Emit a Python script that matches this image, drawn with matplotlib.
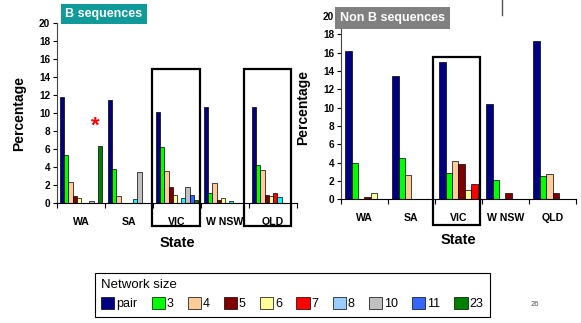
import numpy as np
import matplotlib.pyplot as plt
from matplotlib.patches import Rectangle, Patch

plt.rcParams['font.family'] = ['Liberation Sans', 'DejaVu Sans']

states = ['WA', 'SA', 'VIC', 'W NSW', 'QLD']
sizes = ['pair', '3', '4', '5', '6', '7', '8', '10', '11', '23']
colors = ['#000080', '#00FF00', '#FFCC99', '#800000', '#FFFF99',
          '#FF0000', '#99CCFF', '#C0C0C0', '#3366FF', '#008000']
# size "8" looks cyan in the left chart
b_colors = colors[:6] + ['#00FFFF'] + colors[7:]

# B sequences, one list per network size, in state order
b_pair = [11.8, 11.45, 10.1, 10.65, 10.65]
b_3 = [5.3, 3.8, 6.2, 1.05, 4.2]
b_4 = [2.3, 0.8, 3.5, 2.2, 3.6]
b_5 = [0.7, 0.0, 1.7, 0.25, 0.85]
b_6 = [0.5, 0.0, 0.9, 0.5, 0.7]
b_7 = [0.0, 0.0, 0.0, 0.0, 1.1]
b_8 = [0.0, 0.4, 0.5, 0.2, 0.6]
b_10 = [0.2, 3.4, 1.7, 0.0, 0.0]
b_11 = [0.0, 0.0, 0.9, 0.0, 0.0]
b_23 = [6.35, 0.0, 0.25, 0.0, 0.0]
b_vals = [b_pair, b_3, b_4, b_5, b_6, b_7, b_8, b_10, b_11, b_23]

# Non B sequences (only sizes pair..7 present)
nb_pair = [16.2, 13.5, 15.0, 10.4, 17.3]
nb_3 = [4.0, 4.5, 2.9, 2.1, 2.5]
nb_4 = [0.0, 2.7, 4.2, 0.0, 2.8]
nb_5 = [0.3, 0.0, 3.9, 0.7, 0.7]
nb_6 = [0.7, 0.0, 1.0, 0.0, 0.0]
nb_7 = [0.0, 0.0, 1.7, 0.0, 0.0]
nb_vals = [nb_pair, nb_3, nb_4, nb_5, nb_6, nb_7]


def draw_panel(ax, vals, cols, gap=1.3):
    n = len(vals)
    w = 1.0 / (n + gap)
    x = np.arange(len(states))
    for k, v in enumerate(vals):
        v = np.array(v, dtype=float)
        v = np.where(v > 0, v, np.nan)
        ax.bar(x - n * w / 2 + (k + 0.5) * w, v, w, color=cols[k],
               edgecolor='black', linewidth=0.5)
    ax.set_xlim(-0.5, len(states) - 0.5)
    ax.set_ylim(0, 20)
    ax.set_yticks(range(0, 21, 2))
    ax.set_xticks(x)
    ax.set_xticklabels(states, fontsize=7.6, fontweight='bold')
    ax.set_xticks(np.arange(-0.5, len(states), 1), minor=True)
    ax.tick_params(axis='x', which='major', length=0, pad=10)
    ax.tick_params(axis='x', which='minor', length=3.5, width=0.8)
    ax.tick_params(axis='y', length=3, width=0.8, pad=2)
    for t in ax.get_yticklabels():
        t.set_fontsize(7.2)
        t.set_fontweight('bold')
    for s in ['top', 'right']:
        ax.spines[s].set_visible(False)
    ax.spines['left'].set_color('#444444')
    ax.set_ylabel('Percentage', fontsize=10, fontweight='bold', labelpad=9)
    ax.set_xlabel('State', fontsize=10.5, fontweight='bold', labelpad=7)


fig = plt.figure(figsize=(5.81, 3.23), dpi=100)
ax1 = fig.add_axes([0.0981, 0.3724, 0.4131, 0.5555])
ax2 = fig.add_axes([0.5869, 0.3830, 0.4045, 0.5675])

draw_panel(ax1, b_vals, b_colors)
draw_panel(ax2, nb_vals, colors)

# highlight boxes
for ax, x0, x1, y0, y1 in [(ax1, 1.47, 2.48, -2.56, 14.9),
                           (ax1, 3.40, 4.375, -2.56, 14.9),
                           (ax2, 1.45, 2.46, -2.8, 15.56)]:
    ax.add_patch(Rectangle((x0, y0), x1 - x0, y1 - y0, fill=False,
                           edgecolor='black', linewidth=1.6, clip_on=False,
                           zorder=5))

ax1.text(0.30, 8.77, '*', color='red', fontsize=16, fontweight='bold',
         ha='center', va='center_baseline')

# panel titles
fig.text(104 / 581, 1 - 14 / 323, 'B sequences', color='white',
         fontsize=9, fontweight='bold', ha='center', va='center',
         bbox=dict(boxstyle='square,pad=0.35', facecolor='#109A9A',
                   edgecolor='none'))
fig.text(392 / 581, 1 - 18.3 / 323, 'Non B sequences', color='white',
         fontsize=9, fontweight='bold', ha='center', va='center',
         bbox=dict(boxstyle='square,pad=0.4', facecolor='#808080',
                   edgecolor='none'))

handles = [Patch(facecolor=c, edgecolor='black', linewidth=0.5)
           for c in colors]
leg = fig.legend(handles, sizes, title='Network size', ncol=10,
                 loc='upper left', bbox_to_anchor=(95 / 581, 1 - 272.7 / 323),
                 borderaxespad=0, fontsize=9, title_fontsize=9.5,
                 handlelength=1.05, handleheight=1.05, handletextpad=0.15,
                 columnspacing=1.14, borderpad=0.5, fancybox=False,
                 alignment='left', framealpha=1)
leg.get_frame().set_edgecolor('black')
leg.get_frame().set_linewidth(0.8)

fig.text(535 / 581, 1 - 305 / 323, '26', fontsize=5.5, color='#555555',
         ha='center', va='center')
fig.add_artist(plt.Line2D([502 / 581, 502 / 581], [1, 1 - 15 / 323],
                          color='#555555', linewidth=1))

fig.savefig('out.png', dpi=100)
